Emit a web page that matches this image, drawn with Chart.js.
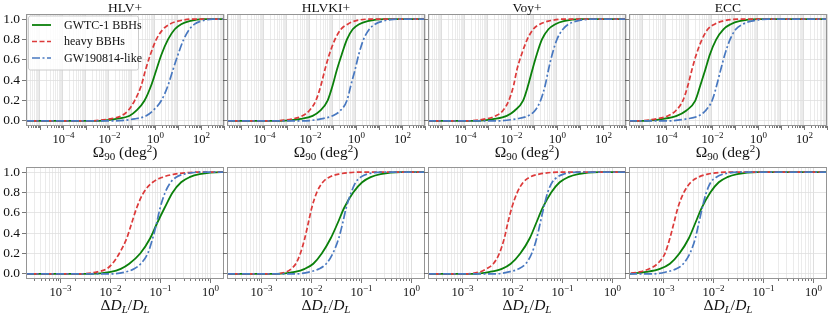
<!DOCTYPE html>
<html>
<head>
<meta charset="utf-8">
<script src="https://cdn.jsdelivr.net/npm/chart.js@4.4.1/dist/chart.umd.min.js"></script>
<style>
  html, body { margin: 0; padding: 0; background: #fff; }
  #wrap { position: relative; width: 830px; height: 317px; overflow: hidden; }
  #wrap canvas { position: absolute; }
</style>
</head>
<body>
<div id="wrap"></div>
<script>
// detector networks (columns) and populations (curves)
const networks = ['HLV+', 'HLVKI+', 'Voy+', 'ECC'];
const populations = ['GWTC-1 BBHs', 'heavy BBHs', 'GW190814-like'];

const levels = [0, 0.02, 0.05, 0.1, 0.2, 0.35, 0.5, 0.65, 0.8, 0.9, 0.95, 0.98, 1];

// x-axis limits, log10
const skyLimits = [-5.6, 3.0];
const distLimits = [-3.69, 0.28];

// log10 Omega_90 (deg^2) reached at each level, one list per network
const skyGwtc = [
    [-2.6, -1.68, -1.1, -0.81, -0.45, -0.16, 0.06, 0.28, 0.57, 0.86, 1.14, 1.5, 2.1],
    [-3.3, -2.39, -1.88, -1.55, -1.23, -1.01, -0.83, -0.62, -0.39, -0.14, 0.14, 0.51, 1.23],
    [-3.6, -2.72, -2.18, -1.84, -1.47, -1.25, -1.07, -0.88, -0.65, -0.37, -0.07, 0.29, 1.03],
    [-5.0, -4.12, -3.53, -3.12, -2.72, -2.5, -2.29, -2.09, -1.81, -1.5, -1.18, -0.81, 0.0]
];
const skyHeavy = [
    [-2.9, -1.97, -1.46, -1.17, -0.88, -0.59, -0.41, -0.2, 0.06, 0.35, 0.64, 1.0, 1.65],
    [-3.6, -2.75, -2.32, -2.03, -1.74, -1.52, -1.35, -1.16, -0.91, -0.65, -0.36, -0.07, 0.65],
    [-4.0, -3.09, -2.65, -2.35, -2.09, -1.88, -1.74, -1.54, -1.29, -1.03, -0.74, -0.37, 0.3],
    [-5.3, -4.41, -3.9, -3.57, -3.26, -3.04, -2.87, -2.68, -2.43, -2.18, -1.88, -1.54, -0.88]
];
const skyGw19 = [
    [-1.7, -0.88, -0.38, -0.09, 0.28, 0.57, 0.78, 1.0, 1.25, 1.5, 1.72, 2.0, 2.5],
    [-2.3, -1.52, -1.01, -0.68, -0.39, -0.22, -0.04, 0.12, 0.33, 0.58, 0.83, 1.16, 1.81],
    [-2.6, -1.76, -1.25, -0.96, -0.71, -0.51, -0.37, -0.21, 0.0, 0.26, 0.51, 0.85, 1.54],
    [-3.9, -3.09, -2.57, -2.28, -1.99, -1.79, -1.62, -1.44, -1.21, -0.96, -0.66, -0.29, 0.44]
];

// log10 dD_L/D_L reached at each level
const distGwtc = [
    [-2.4, -1.99, -1.79, -1.62, -1.4, -1.2, -1.06, -0.91, -0.75, -0.58, -0.41, -0.21, 0.23],
    [-2.7, -2.33, -2.13, -1.96, -1.79, -1.61, -1.47, -1.34, -1.16, -0.98, -0.81, -0.61, -0.2],
    [-2.8, -2.45, -2.21, -2.03, -1.84, -1.65, -1.52, -1.39, -1.22, -1.05, -0.88, -0.68, -0.27],
    [-3.7, -3.34, -3.07, -2.87, -2.68, -2.49, -2.36, -2.23, -2.06, -1.89, -1.72, -1.52, -1.11]
];
const distHeavy = [
    [-2.6, -2.26, -2.07, -1.96, -1.82, -1.67, -1.57, -1.47, -1.33, -1.15, -0.95, -0.71, -0.17],
    [-2.8, -2.5, -2.4, -2.31, -2.22, -2.13, -2.06, -1.99, -1.89, -1.77, -1.64, -1.45, -1.01],
    [-3.0, -2.65, -2.52, -2.38, -2.26, -2.16, -2.09, -2.01, -1.9, -1.78, -1.65, -1.46, -1.02],
    [-3.8, -3.48, -3.28, -3.12, -2.97, -2.87, -2.79, -2.71, -2.59, -2.45, -2.3, -2.11, -1.66]
];
const distGw19 = [
    [-2.0, -1.69, -1.52, -1.39, -1.25, -1.15, -1.07, -1.0, -0.9, -0.79, -0.68, -0.52, -0.17],
    [-2.3, -2.03, -1.84, -1.7, -1.57, -1.45, -1.37, -1.3, -1.2, -1.11, -1.01, -0.88, -0.54],
    [-2.35, -2.07, -1.87, -1.73, -1.61, -1.51, -1.44, -1.37, -1.29, -1.2, -1.1, -0.97, -0.61],
    [-3.2, -2.94, -2.74, -2.6, -2.47, -2.36, -2.29, -2.22, -2.14, -2.05, -1.94, -1.8, -1.45]
];

const yTicks = [0, 0.2, 0.4, 0.6, 0.8, 1.0];

// styles
const colors = ['#0b800b', '#dc3a3a', '#4878c0'];
const dashes = [[], [5, 2.5], [8, 2.5, 2, 2.5]];
const widths = [1.8, 1.7, 1.7];
const serif = '"Liberation Serif", "DejaVu Serif", serif';

// layout
const colLeft = [26, 227, 428, 629];
const rowTop = [14, 167];
const plotW = 198, plotH = 112;
const axisW = 26, padTop = 14, below = 40, xAxisH = 18;

const rowLimits = [skyLimits, distLimits];
const rowCurves = [[skyGwtc, skyHeavy, skyGw19], [distGwtc, distHeavy, distGw19]];
const labelStep = [2, 1];

function curvePoints(logs, lim) {
    const pts = logs.map((e, i) => ({ x: Math.pow(10, e), y: levels[i] }));
    if (logs[0] > lim[0]) pts.unshift({ x: Math.pow(10, lim[0]), y: 0 });
    if (logs[logs.length - 1] < lim[1]) pts.push({ x: Math.pow(10, lim[1]), y: 1 });
    return pts;
}

function logTicks(lim) {
    const out = [];
    for (let k = Math.floor(lim[0]); k <= Math.ceil(lim[1]); k++) {
        for (let m = 1; m <= 9; m++) {
            const v = m * Math.pow(10, k);
            const l = Math.log10(v);
            if (l >= lim[0] && l <= lim[1]) out.push({ value: v, major: m === 1, exp: k });
        }
    }
    return out;
}

// text made of pieces with different size / offset
function drawRich(ctx, parts, cx, baseline) {
    let total = 0;
    parts.forEach(p => { ctx.font = p.font; p.w = ctx.measureText(p.t).width; total += p.w; });
    let x = cx - total / 2;
    ctx.textAlign = 'left';
    ctx.textBaseline = 'alphabetic';
    parts.forEach(p => {
        ctx.font = p.font;
        ctx.fillText(p.t, x, baseline + (p.dy || 0));
        x += p.w;
    });
}

const big = '15.5px ' + serif, small = '11px ' + serif;
const bigIt = 'italic 15.5px ' + serif, smallIt = 'italic 11px ' + serif;
const skyTitle = [
    { t: '\u03A9', font: big }, { t: '90', font: small, dy: 3 },
    { t: ' (deg', font: big }, { t: '2', font: small, dy: -5 }, { t: ')', font: big }
];
const distTitle = [
    { t: '\u0394', font: big }, { t: 'D', font: bigIt }, { t: 'L', font: smallIt, dy: 3 },
    { t: '/', font: big }, { t: 'D', font: bigIt }, { t: 'L', font: smallIt, dy: 3 }
];

const panelDecor = {
    id: 'panelDecor',
    afterDraw(chart) {
        const o = chart.options.plugins.panelDecor;
        const ctx = chart.ctx;
        const a = chart.chartArea;
        const xs = chart.scales.x;
        ctx.save();
        // frame
        ctx.strokeStyle = '#959595';
        ctx.lineWidth = 1;
        ctx.strokeRect(a.left + 0.5, a.top + 0.5, a.right - a.left - 1, a.bottom - a.top - 1);
        // x tick marks and labels
        ctx.strokeStyle = '#555';
        ctx.lineWidth = 0.8;
        ctx.fillStyle = '#111';
        xs.ticks.forEach(t => {
            const px = Math.round(xs.getPixelForValue(t.value)) + 0.5;
            ctx.beginPath();
            ctx.moveTo(px, a.bottom);
            ctx.lineTo(px, a.bottom + (t.major ? 4 : 2));
            ctx.stroke();
            if (t.major && t.exp % o.step === 0) {
                const sup = (t.exp < 0 ? '\u2212' : '') + Math.abs(t.exp);
                drawRich(ctx, [{ t: '10', font: '12.5px ' + serif }, { t: sup, font: '9px ' + serif, dy: -5 }],
                    px, a.bottom + 17);
            }
        });
        // axis title
        drawRich(ctx, o.xTitle, (a.left + a.right) / 2, a.bottom + 31);
        // panel title
        if (o.title) {
            ctx.font = '13.5px ' + serif;
            ctx.textAlign = 'center';
            ctx.fillText(o.title, (a.left + a.right) / 2, a.top - 2);
        }
        // legend
        if (o.legend) {
            const bx = a.left + 2, by = a.top + 1.5;
            ctx.fillStyle = 'rgba(255,255,255,0.85)';
            ctx.strokeStyle = '#cccccc';
            ctx.lineWidth = 1;
            ctx.beginPath();
            ctx.roundRect(bx + 0.5, by + 0.5, 110, 54, 2);
            ctx.fill();
            ctx.stroke();
            populations.forEach((name, i) => {
                const yy = a.top + 11 + i * 16.5;
                ctx.strokeStyle = colors[i];
                ctx.lineWidth = widths[i];
                ctx.setLineDash(dashes[i]);
                ctx.beginPath();
                ctx.moveTo(a.left + 6, yy);
                ctx.lineTo(a.left + 25, yy);
                ctx.stroke();
                ctx.setLineDash([]);
                ctx.fillStyle = '#111';
                ctx.font = '12px ' + serif;
                ctx.textAlign = 'left';
                ctx.textBaseline = 'middle';
                ctx.fillText(name, a.left + 38, yy + 0.5);
            });
        }
        ctx.restore();
    }
};

const wrap = document.getElementById('wrap');

rowTop.forEach((top, r) => {
    colLeft.forEach((left, c) => {
        const lim = rowLimits[r];
        const canvas = document.createElement('canvas');
        const cw = axisW + plotW + 2, ch = padTop + plotH + below;
        canvas.width = cw;
        canvas.height = ch;
        canvas.style.left = (left - axisW) + 'px';
        canvas.style.top = (top - padTop) + 'px';
        canvas.style.width = cw + 'px';
        canvas.style.height = ch + 'px';
        wrap.appendChild(canvas);

        const datasets = rowCurves[r].map((set, s) => ({
            label: populations[s],
            data: curvePoints(set[c], lim),
            borderColor: colors[s],
            borderWidth: widths[s],
            borderDash: dashes[s],
            pointRadius: 0,
            fill: false,
            cubicInterpolationMode: 'monotone',
            order: 2 - s
        }));

        new Chart(canvas.getContext('2d'), {
            type: 'line',
            data: { datasets: datasets },
            plugins: [panelDecor],
            options: {
                responsive: false,
                animation: false,
                events: [],
                layout: { padding: { top: padTop, right: 2, left: 0, bottom: below - xAxisH } },
                plugins: {
                    legend: { display: false },
                    tooltip: { enabled: false },
                    panelDecor: {
                        step: labelStep[r],
                        xTitle: r === 0 ? skyTitle : distTitle,
                        title: r === 0 ? networks[c] : null,
                        legend: r === 0 && c === 0
                    }
                },
                scales: {
                    x: {
                        type: 'logarithmic',
                        min: Math.pow(10, lim[0]),
                        max: Math.pow(10, lim[1]),
                        afterBuildTicks: (scale) => { scale.ticks = logTicks(lim); },
                        afterFit: (scale) => { scale.height = xAxisH; },
                        ticks: { display: false },
                        border: { display: false },
                        grid: {
                            drawTicks: false,
                            color: (ctx) => (ctx.tick && ctx.tick.major) ? '#d6d6d6' : '#e6e6e6',
                            lineWidth: 0.8
                        }
                    },
                    y: {
                        min: -0.05,
                        max: 1.05,
                        afterBuildTicks: (scale) => { scale.ticks = yTicks.map(v => ({ value: v })); },
                        afterFit: (scale) => { scale.width = axisW; },
                        border: { display: false },
                        ticks: {
                            display: c === 0,
                            padding: 2,
                            color: '#111',
                            font: { family: serif, size: 13.5 },
                            callback: (v) => Number(v).toFixed(1)
                        },
                        grid: {
                            color: '#e0e0e0',
                            lineWidth: 0.8,
                            tickLength: 4,
                            tickColor: '#555',
                            tickWidth: 0.8
                        }
                    }
                }
            }
        });
    });
});
</script>
</body>
</html>
